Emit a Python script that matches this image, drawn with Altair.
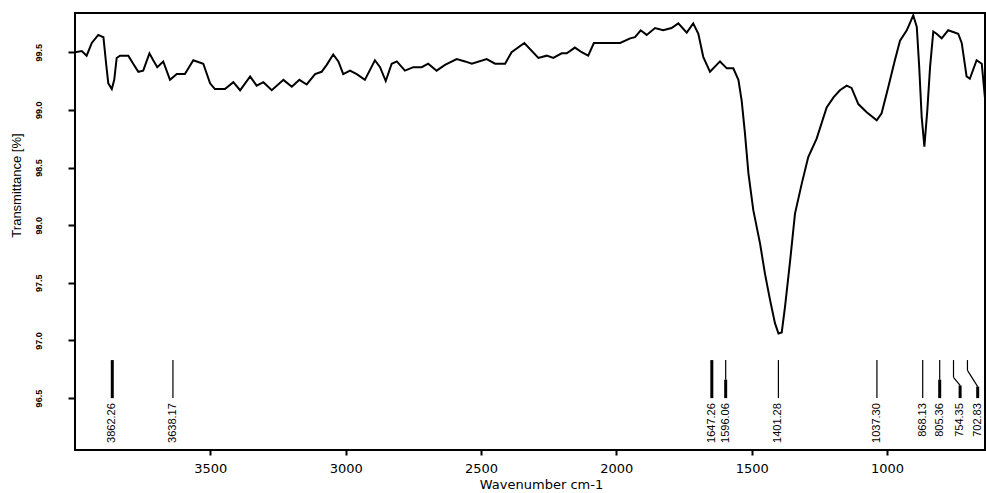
import altair as alt
import pandas as pd

# ---- spectrum ----
wavenumber = [4000, 3975, 3957, 3938, 3914, 3895, 3885, 3877, 3864, 3855, 3846, 3834,
              3803, 3785, 3766, 3748, 3725, 3711, 3696, 3674, 3649, 3624, 3594, 3563,
              3526, 3501, 3483, 3446, 3415, 3390, 3353, 3329, 3304, 3273, 3230, 3199,
              3171, 3144, 3113, 3089, 3070, 3046, 3027, 3009, 2984, 2959, 2929, 2892,
              2873, 2852, 2830, 2811, 2781, 2750, 2719, 2695, 2664, 2633, 2590, 2559,
              2534, 2479, 2448, 2411, 2387, 2340, 2288, 2257, 2233, 2202, 2183, 2153,
              2128, 2104, 2083, 2048, 2023, 1986, 1949, 1931, 1910, 1888, 1857, 1827,
              1796, 1771, 1740, 1716, 1697, 1679, 1654, 1617, 1592, 1568, 1549, 1537,
              1525, 1512, 1494, 1469, 1451, 1432, 1414, 1401, 1389, 1377, 1358, 1340,
              1315, 1291, 1260, 1223, 1197, 1174, 1149, 1131, 1106, 1075, 1038, 1020,
              995, 971, 952, 927, 903, 890, 881, 872, 862, 851, 841, 829, 817, 798,
              774, 737, 724, 706, 694, 669, 650, 638]
transmittance = [99.50, 99.51, 99.47, 99.58, 99.65, 99.63, 99.40, 99.23, 99.18, 99.26, 99.45, 99.47,
                 99.47, 99.40, 99.33, 99.34, 99.49, 99.43, 99.37, 99.42, 99.26, 99.31, 99.31, 99.43,
                 99.40, 99.23, 99.18, 99.18, 99.24, 99.17, 99.29, 99.21, 99.24, 99.17, 99.26, 99.20,
                 99.26, 99.22, 99.31, 99.33, 99.39, 99.48, 99.42, 99.31, 99.34, 99.31, 99.26, 99.43,
                 99.37, 99.25, 99.40, 99.42, 99.34, 99.37, 99.37, 99.40, 99.34, 99.39, 99.44, 99.42,
                 99.40, 99.44, 99.40, 99.40, 99.50, 99.58, 99.45, 99.47, 99.45, 99.49, 99.49, 99.54,
                 99.50, 99.47, 99.58, 99.58, 99.58, 99.58, 99.62, 99.63, 99.69, 99.65, 99.71, 99.69,
                 99.71, 99.75, 99.67, 99.75, 99.66, 99.46, 99.33, 99.42, 99.36, 99.36, 99.26, 99.08,
                 98.80, 98.45, 98.13, 97.84, 97.58, 97.35, 97.15, 97.06, 97.07, 97.29, 97.69, 98.10,
                 98.36, 98.59, 98.75, 99.02, 99.11, 99.17, 99.21, 99.19, 99.05, 98.98, 98.91, 98.97,
                 99.20, 99.43, 99.60, 99.69, 99.82, 99.72, 99.37, 98.94, 98.68, 99.00, 99.37, 99.68, 99.66, 99.62,
                 99.69, 99.66, 99.58, 99.29, 99.27, 99.43, 99.40, 99.10]

# ---- peak picks ----
peak_labels = ["3862.26", "3638.17", "1647.26", "1596.06", "1401.28",
               "1037.30", "868.13", "805.36", "754.35", "702.83"]
peak_positions = [3862.26, 3638.17, 1647.26, 1596.06, 1401.28,
                  1037.30, 868.13, 805.36, 754.35, 702.83]
# where the label sits (crowded labels pushed aside)
label_positions = [3862.26, 3638.17, 1647.26, 1596.06, 1401.28,
                   1037.30, 868.13, 805.36, 730.0, 665.0]

x_ticks = [3500, 3000, 2500, 2000, 1500, 1000]
y_ticks = [96.5, 97.0, 97.5, 98.0, 98.5, 99.0, 99.5]

# ---- styles ----
X_DOMAIN = [638, 4000]
Y_DOMAIN = [96.05, 99.84]
MARK_TOP, MARK_BOTTOM, LABEL_Y = 96.83, 96.50, 96.456
bend_levels = {"754.35": (96.68, 96.61), "702.83": (96.74, 96.60)}
heavy_full = {"3862.26", "1647.26"}
heavy_lower = {"1596.06", "805.36", "754.35", "702.83"}
SPLIT = 96.66
FONT = "Liberation Sans"
WIDE = "DejaVu Sans"

spec = pd.DataFrame({"w": wavenumber, "t": transmittance})

segs = []
for lab, px, lx in zip(peak_labels, peak_positions, label_positions):
    if lab in bend_levels:
        b1, b2 = bend_levels[lab]
        segs.append(dict(x=px, x2=px, y=MARK_TOP, y2=b1, sw=1.2))
        segs.append(dict(x=px, x2=lx, y=b1, y2=b2, sw=1.2))
        segs.append(dict(x=lx, x2=lx, y=b2, y2=MARK_BOTTOM, sw=3.0))
    elif lab in heavy_lower:
        segs.append(dict(x=px, x2=px, y=MARK_TOP, y2=SPLIT, sw=1.2))
        segs.append(dict(x=px, x2=px, y=SPLIT, y2=MARK_BOTTOM, sw=3.0))
    else:
        segs.append(dict(x=px, x2=px, y=MARK_TOP, y2=MARK_BOTTOM,
                         sw=3.0 if lab in heavy_full else 1.2))
seg_df = pd.DataFrame(segs)
lab_df = pd.DataFrame({"x": label_positions, "label": peak_labels, "y": [LABEL_Y] * len(peak_labels)})

xscale = alt.Scale(domain=X_DOMAIN, reverse=True, nice=False, zero=False)
yscale = alt.Scale(domain=Y_DOMAIN, nice=False, zero=False)

xaxis = alt.Axis(values=x_ticks, format="d", title="Wavenumber cm-1", grid=False,
                 domain=False, tickSize=5, tickWidth=2, tickColor="black",
                 labelFontSize=13, labelColor="black", labelFont=WIDE, labelPadding=7,
                 titleFontSize=13, titleFont=WIDE, titleFontWeight="normal",
                 titleColor="black", titlePadding=3, titleX=466)
yaxis = alt.Axis(values=y_ticks, format=".1f", title="Transmittance [%]", grid=False,
                 domain=False, tickSize=7, tickWidth=2, tickColor="black",
                 labelAngle=270, labelAlign="center", labelBaseline="bottom",
                 labelFontSize=9, labelColor="black", labelFont=FONT, labelPadding=25,
                 labelFontWeight="bold",
                 titleFontSize=13, titleFont=FONT, titleFontWeight="normal",
                 titleColor="black", titleAngle=270, titleX=-59, titleY=172,
                 titleAlign="center", titleBaseline="middle")

line = alt.Chart(spec).mark_line(color="black", strokeWidth=2, clip=True).encode(
    x=alt.X("w:Q", scale=xscale, axis=xaxis),
    y=alt.Y("t:Q", scale=yscale, axis=yaxis),
    order=alt.Order("w:Q", sort="descending"),
)

rules = alt.Chart(seg_df).mark_rule(color="black").encode(
    x=alt.X("x:Q", scale=xscale), x2="x2:Q",
    y=alt.Y("y:Q", scale=yscale), y2="y2:Q",
    strokeWidth=alt.StrokeWidth("sw:Q", scale=None),
)

labels = alt.Chart(lab_df).mark_text(angle=270, align="right", baseline="middle",
                                     fontSize=11, font=FONT, color="black").encode(
    x=alt.X("x:Q", scale=xscale), y=alt.Y("y:Q", scale=yscale), text="label:N"
)

chart = alt.layer(line, rules, labels).properties(
    width=910, height=437,
    autosize=alt.AutoSizeParams(type="none"),
    padding={"left": 75, "top": 13, "right": 1, "bottom": 43},
    background="white",
).configure_view(stroke="black", strokeWidth=2)

chart.save("out.html", embed_options={"renderer": "svg", "actions": False})
